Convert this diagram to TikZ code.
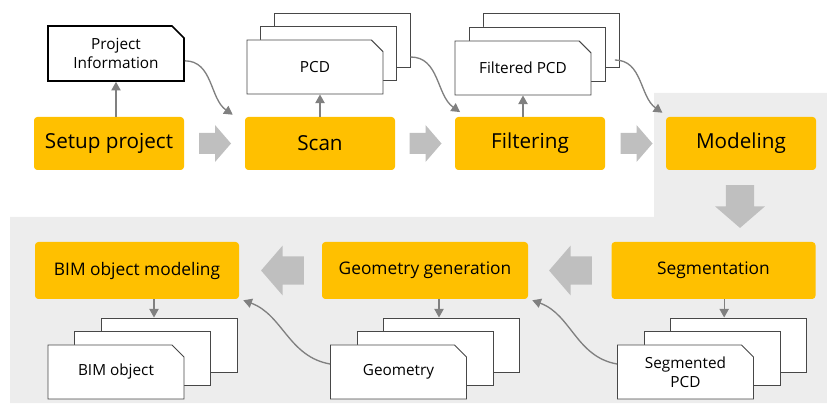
\documentclass[tikz,border=0pt]{standalone}
\usepackage{fontspec}
\setmainfont{Open Sans}
\usetikzlibrary{shapes.misc,arrows.meta,positioning,calc}

\definecolor{stepyellow}{HTML}{FFC000}
\definecolor{bggray}{HTML}{EDEDED}
\definecolor{bigarrgray}{HTML}{BFBFBF}
\definecolor{linkgray}{HTML}{808080}

\tikzset{
  stepbox/.style={fill=stepyellow, rounded corners=2.5pt, minimum width=112.5pt,
    minimum height=39.75pt, inner sep=0pt, font=\fontsize{15.5}{18}\selectfont},
  lowstep/.style={stepbox, minimum width=153pt, minimum height=42.75pt,
    font=\fontsize{13}{16}\selectfont},
  docbox/.style={chamfered rectangle, chamfered rectangle corners=north east,
    chamfered rectangle sep=4.5pt, draw=black!72, line width=0.7pt, fill=white,
    minimum width=102pt, minimum height=40.5pt, inner sep=0pt, align=center,
    font=\fontsize{11.5}{14}\selectfont},
  link/.style={draw=linkgray, line width=1pt, -{Triangle[width=7pt,length=6.5pt]}},
  bigarr/.style={fill=bigarrgray}
}

\begin{document}
\begin{tikzpicture}[x=0.75pt,y=0.75pt]
  \useasboundingbox (0,0) rectangle (827,403);
  % grey area of the modeling part
  \fill[bggray] (10,0) -- (10,186) -- (654,186) -- (654,310) -- (827,310) -- (827,0) -- cycle;

  % process steps
  \node[stepbox] (setup) at (109,259.5) {Setup project};
  \node[stepbox] (scan) at (320,259.5) {Scan};
  \node[stepbox] (filter) at (530,259.5) {Filtering};
  \node[stepbox] (model) at (741,259.5) {Modeling};
  \node[lowstep] (bimmod) at (137,132.5) {BIM object modeling};
  \node[lowstep, minimum width=154.5pt] (geogen) at (425,132.5) {Geometry generation};
  \node[lowstep] (segm) at (713.5,132.5) {Segmentation};

  % big flow arrows
  \foreach \px/\py/\ang/\s in {215/259.5/0/1, 425.5/259.5/0/1, 636.5/259.5/0/1,
                               740/196.5/-90/1.34, 570.5/132.5/180/1.34, 282.5/132.5/180/1.34} {
    \fill[bigarr, shift={(\px,\py)}, rotate=\ang, scale=\s]
      (-16,-10.5) -- (0,-10.5) -- (0,-18.5) -- (16,0) -- (0,18.5) -- (0,10.5) -- (-16,10.5) -- cycle;
  }

  % documents
  \node[docbox, draw=black, line width=1.2pt, minimum height=41.25pt] (info) at (116,349.5)
    {Project\\Information};

  \node[docbox] (pcdC) at (342,363) {};
  \node[docbox] (pcdB) at (328.5,349.5) {};
  \node[docbox] (pcd) at (315,336) {PCD};

  \node[docbox] (fpcdC) at (551,363) {};
  \node[docbox] (fpcdB) at (537,349) {};
  \node[docbox] (fpcd) at (523,335) {Filtered PCD};

  \node[docbox] (bimC) at (169,58) {};
  \node[docbox] (bimB) at (142.5,44.5) {};
  \node[docbox] (bim) at (116,31) {BIM object};

  \node[docbox] (geoC) at (451.5,58) {};
  \node[docbox] (geoB) at (425,44.5) {};
  \node[docbox] (geo) at (398.5,31) {Geometry};

  \node[docbox] (segC) at (738.5,58) {};
  \node[docbox] (segB) at (712,44.5) {};
  \node[docbox] (seg) at (685.5,31) {Segmented\\PCD};

  % outputs of the steps
  \draw[link] (setup.north -| info.south) -- (info.south);
  \draw[link] (scan.north) -- (scan.north |- pcd.south);
  \draw[link] (filter.north -| fpcd.south) -- (fpcd.south);
  \draw[link] ([xshift=12.75pt]bimmod.south) -- ([xshift=12.75pt]bimmod.south |- bimC.north);
  \draw[link] ([xshift=10.5pt]geogen.south) -- ([xshift=10.5pt]geogen.south |- geoC.north);
  \draw[link] ([xshift=8pt]segm.south) -- ([xshift=8pt]segm.south |- segC.north);

  % inputs of the next steps
  \draw[link] ([yshift=-5.5pt]info.east) to[out=0, in=145] ([shift={(-9pt,1.5pt)}]scan.north west);
  \draw[link] ([yshift=-12.75pt]pcdC.east) to[out=0, in=145] ([shift={(4pt,3.5pt)}]filter.north west);
  \draw[link] ([shift={(-3.5pt,-15pt)}]fpcdC.east) to[out=0, in=145] ([shift={(-2.5pt,3pt)}]model.north west);
  \draw[link] ([yshift=6pt]geo.west) to[out=170, in=-20] ([shift={(3pt,-0.75pt)}]bimmod.south east);
  \draw[link] ([yshift=6pt]seg.west) to[out=170, in=-20] ([shift={(3pt,-0.75pt)}]geogen.south east);
\end{tikzpicture}
\end{document}
